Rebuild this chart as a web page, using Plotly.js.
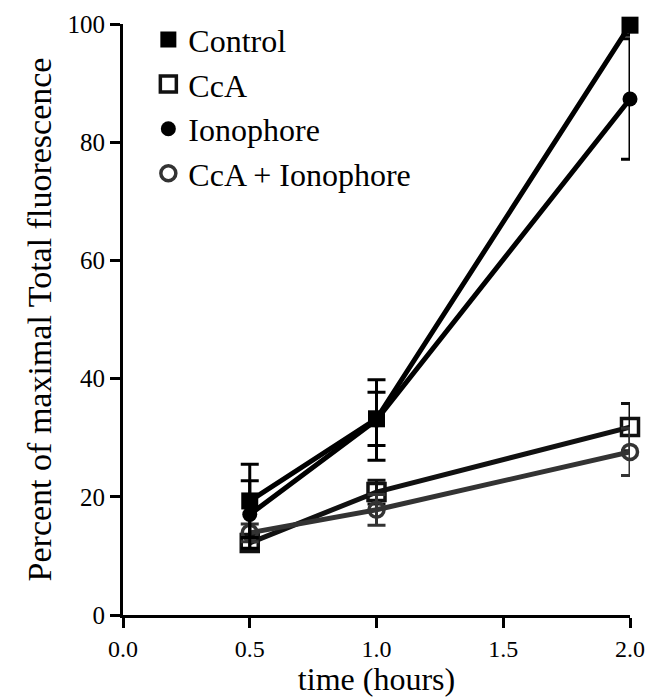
<!DOCTYPE html>
<html>
<head>
<meta charset="utf-8">
<script src="https://cdn.plot.ly/plotly-3.0.1.min.js"></script>
<style>html,body{margin:0;padding:0;background:#fff;}#chart{width:666px;height:697px;}</style>
</head>
<body>
<div id="chart"></div>
<script>
const times = [0.5, 1.0, 2.0];
const seriesNames = ["Control", "CcA", "Ionophore", "CcA + Ionophore"];
const controlValues = [19.3, 33.2, 99.8];
const controlErrors = [6.2, 4.5, 1.7];
const ccaValues = [12.2, 20.8, 31.8];
const ccaErrors = [1.2, 2.0, 4.0];
const ionophoreValues = [17.0, 33.0, 87.3];
const ionophoreErrors = [5.7, 6.8, 10.2];
const ccaIonoValues = [13.9, 17.8, 27.6];
const ccaIonoErrors = [1.5, 2.6, 4.0];
const xTickVals = [0, 0.5, 1.0, 1.5, 2.0];
const xTickText = ["0.0", "0.5", "1.0", "1.5", "2.0"];
const yTickVals = [0, 20, 40, 60, 80, 100];

const FONT = "'Liberation Serif', 'Times New Roman', 'DejaVu Serif', serif";
const styles = {
  "Control": {color: "#000", symbol: "square", size: 17},
  "CcA": {color: "#111", symbol: "square-open", size: 17},
  "Ionophore": {color: "#000", symbol: "circle", size: 15},
  "CcA + Ionophore": {color: "#333", symbol: "circle-open", size: 15}
};
const dataMap = {
  "Control": [controlValues, controlErrors],
  "CcA": [ccaValues, ccaErrors],
  "Ionophore": [ionophoreValues, ionophoreErrors],
  "CcA + Ionophore": [ccaIonoValues, ccaIonoErrors]
};
const drawOrder = ["CcA", "CcA + Ionophore", "Ionophore", "Control"];
const traces = [];
drawOrder.forEach(name => {
  const s = styles[name];
  const open = s.symbol.includes("open");
  traces.push({
    x: times, y: dataMap[name][0], type: "scatter", mode: "lines+markers",
    name: name, showlegend: false, cliponaxis: false,
    line: {color: s.color, width: 5},
    marker: {symbol: s.symbol, size: s.size, color: s.color,
             line: {color: s.color, width: open ? 3.5 : 0}},
    error_y: {type: "data", array: dataMap[name][1], visible: true, color: s.color, thickness: 3, width: 9}
  });
});
seriesNames.forEach(name => {
  const s = styles[name];
  const open = s.symbol.includes("open");
  traces.push({
    x: [null], y: [null], type: "scatter", mode: "markers", name: name, showlegend: true,
    marker: {symbol: s.symbol, size: s.size, color: s.color,
             line: {color: s.color, width: open ? 3.5 : 0}}
  });
});

const layout = {
  width: 666, height: 697,
  margin: {l: 123, r: 36, t: 24, b: 82},
  paper_bgcolor: "#fff", plot_bgcolor: "#fff",
  font: {family: FONT, color: "#000", size: 24},
  showlegend: true,
  legend: {x: 0.05, y: 1.02, xanchor: "left", yanchor: "top", bgcolor: "rgba(0,0,0,0)",
           font: {family: FONT, size: 32, color: "#000"},
           itemwidth: 30, tracegroupgap: 0},
  xaxis: {
    range: [0, 2.0], tickvals: xTickVals, ticktext: xTickText, automargin: false,
    showgrid: false, zeroline: false, showline: true, linecolor: "#000", linewidth: 3,
    ticks: "outside", ticklen: 10, tickwidth: 3, tickcolor: "#000",
    tickfont: {family: FONT, size: 24}, title: {text: "time (hours)", font: {family: FONT, size: 32}, standoff: 9}
  },
  yaxis: {
    range: [0, 100], tickvals: yTickVals, automargin: false,
    showgrid: false, zeroline: false, showline: true, linecolor: "#000", linewidth: 3,
    ticks: "outside", ticklen: 10, tickwidth: 3, tickcolor: "#000",
    tickfont: {family: FONT, size: 25}, title: {text: "Percent of maximal Total fluorescence", font: {family: FONT, size: 34}, standoff: 6}
  }
};
Plotly.newPlot("chart", traces, layout, {displayModeBar: false, staticPlot: true});
</script>
</body>
</html>
